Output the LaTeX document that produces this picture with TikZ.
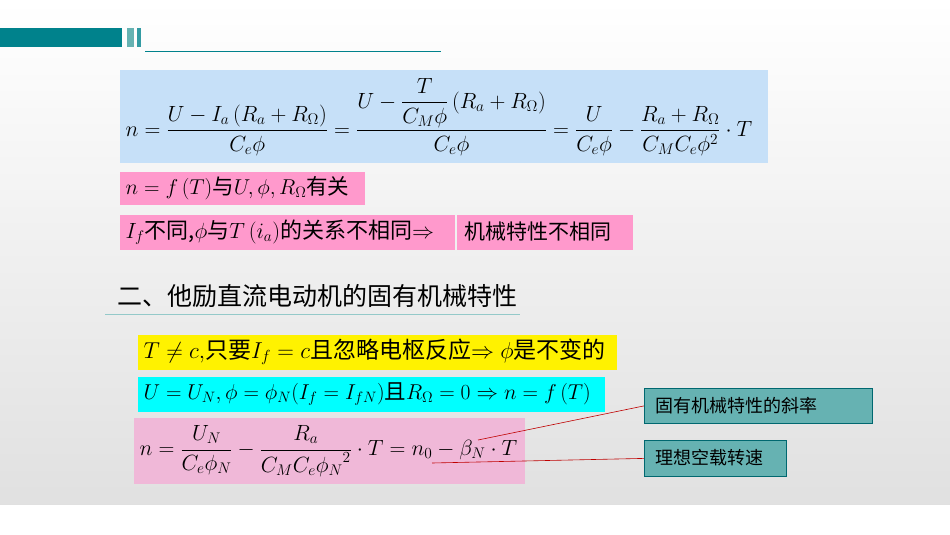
\RequirePackage{fix-cm}
\documentclass[tikz,border=0pt]{standalone}
\usepackage{amsmath}
\usepackage{fontspec}
\newfontfamily\cjk{Noto Sans CJK SC}
\definecolor{lblue}{HTML}{C6E0F8}
\definecolor{pinkA}{HTML}{FF99CC}
\definecolor{pinkB}{HTML}{F0B8D8}
\definecolor{cyanA}{HTML}{00FFFF}
\definecolor{tealA}{HTML}{00828C}
\definecolor{tealL}{HTML}{66B2B2}
\begin{document}
\begin{tikzpicture}[x=1pt,y=-1pt,
  box/.style={inner sep=0pt, anchor=north west},
  lbl/.style={draw=tealA!80!black, fill=tealL, line width=0.8pt},
  ptr/.style={draw=red!75!black, line width=0.6pt}]
\useasboundingbox (0,0) rectangle (950,535);
\shade[top color=white, bottom color=black!12] (0,0) rectangle (950,505);
\fill[white] (0,505) rectangle (950,535);
% header
\fill[tealA] (0,28) rectangle (122,47);
\fill[tealL] (127,28) rectangle (134,47);
\fill[tealA!80] (137,28) rectangle (141,47);
\draw[tealA, line width=0.7pt] (145,51) -- (441,51);
% box 1
\fill[lblue] (120,70) rectangle (768,163);
\node[anchor=west, font=\fontsize{22}{25}\selectfont] (f1) at (122,117)
 {$n=\dfrac{U-I_a\left(R_a+R_\Omega\right)}{C_e\phi}=\dfrac{U-\dfrac{T}{C_M\phi}\left(R_a+R_\Omega\right)}{C_e\phi}=\dfrac{U}{C_e\phi}-\dfrac{R_a+R_\Omega}{C_MC_e\phi^2}\cdot T$};
% pink boxes
\fill[pinkA] (120,172) rectangle (365,205);
\node[anchor=west, font=\fontsize{21.5}{24}\selectfont] (f2) at (122,188) {$n=f\left(T\right)${\cjk 与}$U,\phi,R_\Omega${\cjk 有关}};
\fill[pinkA] (120,215) rectangle (455,250);
\node[anchor=west, font=\fontsize{22}{24}\selectfont] (f3) at (122,232) {$I_f${\cjk 不同,}$\phi${\cjk 与}$T\left(i_a\right)${\cjk 的关系不相同}$\Rightarrow$};
\fill[pinkA] (457,215) rectangle (633,250);
\node[anchor=west, font=\fontsize{21}{22}\selectfont\cjk] (f4) at (461,232) {机械特性不相同};
% heading
\node[anchor=west, font=\fontsize{25}{28}\selectfont\cjk] (h) at (114,296) {二、他励直流电动机的固有机械特性};
\draw[tealL!70, line width=0.8pt] (105,314) -- (520,314);
% yellow
\fill[yellow] (138,335) rectangle (617,370);
\node[anchor=west, font=\fontsize{23}{24}\selectfont] (y1) at (140,352) {$T\neq c,${\cjk 只要}$I_f=c${\cjk 且忽略电枢反应}$\Rightarrow\phi${\cjk 是不变的}};
% cyan
\fill[cyanA] (138,377) rectangle (605,412);
\node[anchor=west, font=\fontsize{21.5}{24}\selectfont] (c1) at (140,394) {$U=U_N,\phi=\phi_N(I_f=I_{fN})${\cjk 且}$R_\Omega=0\Rightarrow n=f\left(T\right)$};
% pink formula
\fill[pinkB] (134,418) rectangle (525,484);
\node[anchor=west, font=\fontsize{22}{24}\selectfont] (p1) at (136,451) {$n=\dfrac{U_N}{C_e\phi_N}-\dfrac{R_a}{C_MC_e{\phi_N}^2}\cdot T=n_0-\beta_N\cdot T$};
\coordinate (beta) at (478,440);
\coordinate (nzero) at (432,463);
% labels
\node[lbl, box, minimum width=228pt, minimum height=35pt] (L1) at (644,388) {};
\node[anchor=west, font=\fontsize{18}{20}\selectfont\cjk] (t1) at (652,405.5) {固有机械特性的斜率};
\node[lbl, box, minimum width=142pt, minimum height=36pt] (L2) at (644,440) {};
\node[anchor=west, font=\fontsize{18}{20}\selectfont\cjk] (t2) at (652,458) {理想空载转速};
\draw[ptr] (beta) -- (L1.west);
\draw[ptr] (nzero) -- (L2.west);
\end{tikzpicture}
\end{document}
